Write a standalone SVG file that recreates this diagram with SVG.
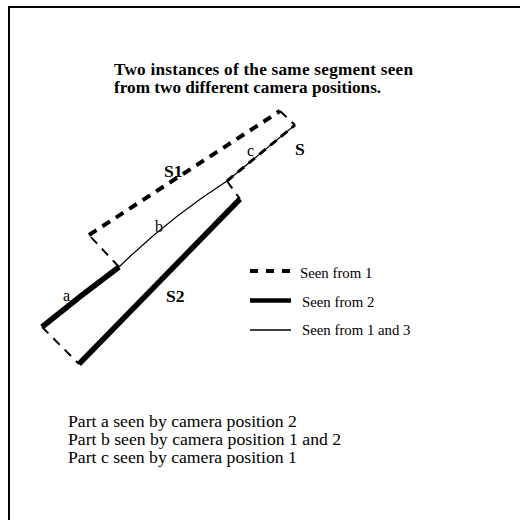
<svg xmlns="http://www.w3.org/2000/svg" width="520" height="520" viewBox="0 0 520 520">
<style>
.bold{font-family:"Liberation Serif","Times New Roman",serif;font-weight:bold;fill:#000}
.reg{font-family:"Liberation Serif","Times New Roman",serif;fill:#000}
.thin{stroke:#000;stroke-width:1.3;fill:none}
.thick{stroke:#000;stroke-width:5.5;fill:none}
.dashT{stroke:#000;stroke-width:4;fill:none;stroke-dasharray:9 7}
.dashS{stroke:#000;stroke-width:2;fill:none;stroke-dasharray:9 7}
</style>
<rect x="0" y="0" width="520" height="520" fill="#fff"/>
<rect x="9" y="7" width="530" height="530" fill="none" stroke="#000" stroke-width="2"/>
<g id="title">
<text class="bold" x="114" y="75" font-size="17.2" textLength="299">Two instances of the same segment seen</text>
<text class="bold" x="114" y="92.5" font-size="17.2">from two different camera positions.</text>
</g>
<g id="connectors">
<path id="S-b" class="thin" d="M119,267 Q168,219 227,181 L295,125"/>
<path id="S-a" class="thick" d="M42,327 Q80,296 119,267"/>
<path id="S2-line" class="thick" d="M79,364 L240,199"/>
<path id="S1-top" class="dashT" d="M89,235 L280,111"/>
<path id="S1-c" stroke="#000" stroke-width="3" fill="none" stroke-dasharray="8 6" d="M227,181 L295,125"/>
<path id="S1-left" class="dashS" d="M119,267 L89,235"/>
<path id="S1-right" class="dashS" d="M280,111 L295,125"/>
<path id="S2-left" class="dashS" d="M42,327 L79,364"/>
<path id="S2-right" class="dashS" stroke-dasharray="7 5" d="M227,181 L240,199"/>
</g>
<g id="labels">
<text class="bold" x="164" y="177" font-size="17.6">S1</text>
<text class="bold" x="295" y="155" font-size="17.6">S</text>
<text class="bold" x="166" y="302" font-size="17.6">S2</text>
<text class="reg" x="247" y="156" font-size="16">c</text>
<text class="reg" x="155" y="232" font-size="16">b</text>
<text class="reg" x="63" y="301" font-size="16">a</text>
</g>
<g id="legend">
<line x1="250" y1="271" x2="291" y2="271" stroke="#000" stroke-width="4" stroke-dasharray="8 8"/>
<line x1="250" y1="300.5" x2="291" y2="300.5" stroke="#000" stroke-width="4.5"/>
<line x1="250" y1="330" x2="291" y2="330" stroke="#000" stroke-width="1.3"/>
<text class="reg" x="300" y="278" font-size="14.8">Seen from 1</text>
<text class="reg" x="302" y="307" font-size="14.8">Seen from 2</text>
<text class="reg" x="302" y="335" font-size="14.8">Seen from 1 and 3</text>
</g>
<g id="notes">
<text class="reg" x="68" y="427" font-size="17.7">Part a seen by camera position 2</text>
<text class="reg" x="68" y="445" font-size="17.7">Part b seen by camera position 1 and 2</text>
<text class="reg" x="68" y="463" font-size="17.7">Part c seen by camera position 1</text>
</g>
</svg>
